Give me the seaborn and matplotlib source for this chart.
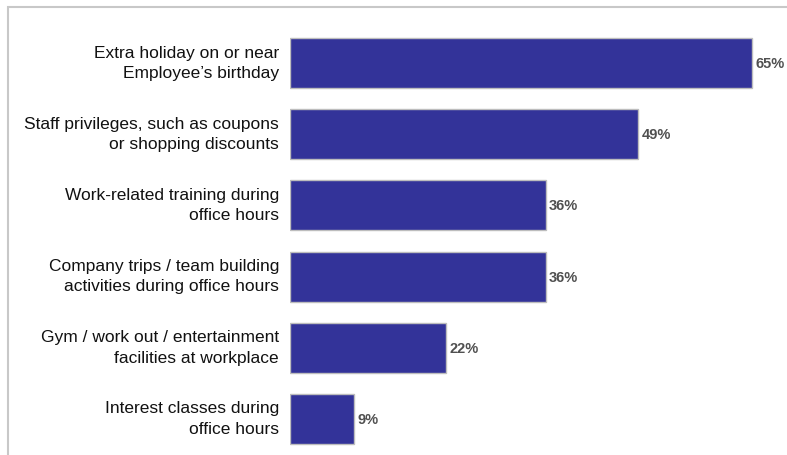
import matplotlib
matplotlib.use("Agg")
import matplotlib.pyplot as plt
import matplotlib.transforms as mtransforms
import seaborn as sns
import pandas as pd
from matplotlib.patches import Rectangle

categories = [
    "Extra holiday on or near\nEmployee\u2019s birthday",
    "Staff privileges, such as coupons\nor shopping discounts",
    "Work-related training during\noffice hours",
    "Company trips / team building\nactivities during office hours",
    "Gym / work out / entertainment\nfacilities at workplace",
    "Interest classes during\noffice hours",
]
values = [65, 49, 36, 36, 22, 9]
value_labels = ["65%", "49%", "36%", "36%", "22%", "9%"]

sns.set_theme(style="white")
plt.rcParams["font.family"] = ["Liberation Sans", "DejaVu Sans"]

W, H = 787, 456
fig = plt.figure(figsize=(W / 100, H / 100), dpi=100)
ax = fig.add_axes([290 / W, 0, 1 - 290 / W, 1])

df = pd.DataFrame({"cat": categories, "val": values})
sns.barplot(data=df, x="val", y="cat", orient="h", color="#333399",
            saturation=1, width=0.70, edgecolor="#bdbdbd", linewidth=1.0, ax=ax)

ax.set_xlim(0, (W - 290) / 7.108)
top = -64 / 71.2
bottom = (H - 64) / 71.2
ax.set_ylim(bottom, top)

for i, (v, lab) in enumerate(zip(values, value_labels)):
    ax.text(v + 0.45, i, lab, va="center", ha="left", fontsize=10.5,
            fontweight="bold", color="#505050")

ax.set_xlabel("")
ax.set_ylabel("")
ax.set_xticks([])
ax.tick_params(axis="y", length=0, pad=8)
shift = mtransforms.ScaledTranslation(0, 5 / 100, fig.dpi_scale_trans)
for t in ax.get_yticklabels():
    t.set_fontsize(12.5)
    t.set_color("#111111")
    t.set_linespacing(1.44)
    t.set_horizontalalignment("right")
    t.set_transform(t.get_transform() + shift)
for s in ax.spines.values():
    s.set_visible(False)

fig.patches.append(Rectangle((8 / W, -0.1), 1.2, 1.1 - 7.5 / H,
                             transform=fig.transFigure, fill=False,
                             edgecolor="#c8c8c8", linewidth=1.5, zorder=0))

fig.savefig("out.png", dpi=100)
